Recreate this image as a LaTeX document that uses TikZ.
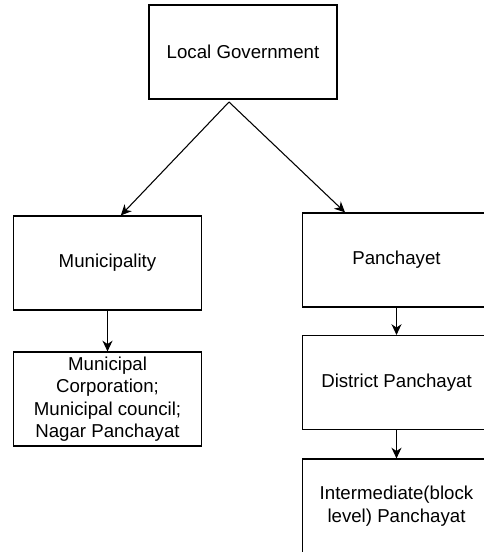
\documentclass[tikz,border=0pt]{standalone}
\usepackage{fontspec}
\setmainfont{Liberation Sans}
\usepackage{tikz}
\usetikzlibrary{arrows.meta}

\tikzset{
  govbox/.style={draw=black, line width=0.9pt, minimum width=141pt, minimum height=70.5pt,
    inner sep=0.75pt, align=center, font=\fontsize{14}{16.9}\selectfont},
  govlink/.style={draw=black, line width=0.8pt, -{Stealth[length=8pt, width=7.5pt, inset=2.5pt]}}
}

\begin{document}
\begin{tikzpicture}[x=0.75pt,y=0.75pt,yscale=-1,xscale=1]
\useasboundingbox (0,0) rectangle (483,552);

%Shape: Rectangle [top]
\node [govbox] (localgov) at (243,52) {Local Government};
%Shape: Rectangle [left branch]
\node [govbox] (municipality) at (107.5,263) {Municipality};
\node [govbox] (urbanbodies) at (107.5,399) {Municipal\\ Corporation;\\ Municipal council;\\ Nagar Panchayat};
%Shape: Rectangle [right branch]
\node [govbox] (panchayet) at (396.5,260) {Panchayet};
\node [govbox] (district) at (396.5,382.5) {District Panchayat};
\node [govbox] (intermediate) at (396.5,506) {Intermediate(block\\ level) Panchayat};

%Straight Lines
\coordinate (split) at (229,102);
\draw [govlink] (split) -- ([xshift=10pt]municipality.north);
\draw [govlink] (split) -- ([xshift=-38.6pt]panchayet.north);
\draw [govlink] (municipality) -- (urbanbodies);
\draw [govlink] (panchayet) -- (district);
\draw [govlink] (district) -- (intermediate);

\end{tikzpicture}
\end{document}
